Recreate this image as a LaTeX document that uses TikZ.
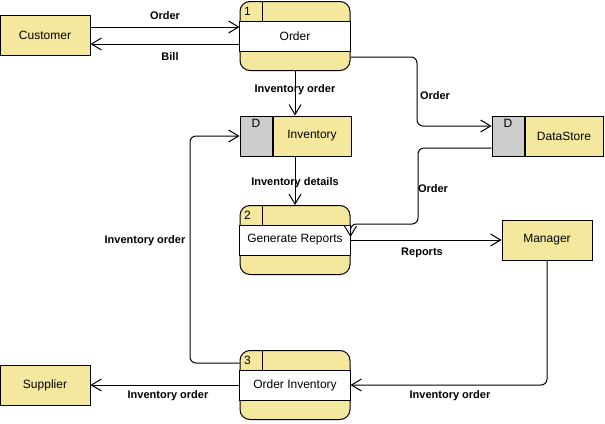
\documentclass[tikz,border=0pt]{standalone}
\usepackage{fontspec}
\setmainfont{Liberation Sans}
\usetikzlibrary{arrows.meta}

\definecolor{dfdyellow}{RGB}{243,232,157}
\definecolor{dfdgray}{RGB}{204,204,204}
\newcommand\dfdfont{\fontsize{12pt}{14pt}\selectfont}
\newcommand\dfdlblfont{\fontsize{11pt}{13pt}\selectfont\bfseries}

\tikzset{
  entity/.style={draw, fill=dfdyellow, minimum width=90pt, minimum height=40pt, inner sep=0pt},
  proc/.style={draw, fill=dfdyellow, rounded corners=10pt, minimum width=110pt, minimum height=69pt, inner sep=0pt},
  dcell/.style={draw, fill=dfdgray, minimum width=32pt, minimum height=40pt, inner sep=0pt},
  dbody/.style={draw, fill=dfdyellow, minimum width=78pt, minimum height=40pt, inner sep=0pt, anchor=west},
  flow/.style={-{Straight Barb[length=10pt,width=12pt]}, rounded corners=6pt},
  lbl/.style={font=\dfdlblfont},
}

\begin{document}
\begin{tikzpicture}[x=1pt, y=-1pt, line width=1pt, font=\dfdfont]
    \useasboundingbox (0,0) rectangle (605,423);

    % Nodes
    \node[entity] (CU) at (45,35) {Customer};
    \node[entity] (MG) at (547,240) {Manager};
    \node[entity] (SU) at (45,385) {Supplier};

    \node[proc] (P1) at (295,36) {};
    \node[proc] (P2) at (295,240) {};
    \node[proc] (P3) at (295,385) {};
    \foreach \p/\n/\t in {P1/1/Order, P2/2/Generate Reports, P3/3/Order Inventory} {
        \draw[fill=white] ([yshift=15pt]\p.west) rectangle ([yshift=-15pt]\p.east);
        \draw ([xshift=23pt]\p.north west) -- ([xshift=23pt, yshift=15pt]\p.west);
        \node (\p n) at ([xshift=8pt, yshift=-10pt]\p.north west) {\n};
        \node (\p t) at (\p.center) {\t};
    }

    \node[dcell] (INVd) at (256,136) {};
    \node[dbody] (INV) at (INVd.east) {Inventory};
    \node (INVl) at ([yshift=-8pt]INVd.north) {D};
    \node[dcell] (DSd) at (508,136) {};
    \node[dbody] (DS) at (DSd.east) {DataStore};
    \node (DSl) at ([yshift=-8pt]DSd.north) {D};

    % Lines
    \draw[flow] ([yshift=8pt]CU.east) -- ([yshift=9pt]P1.west);
    \draw[flow] ([yshift=-8pt]P1.west) -- ([yshift=-9pt]CU.east);
    \draw[flow] (P1.south) -- (P1.south |- INV.north);
    \draw[flow] ([yshift=-21pt]P1.east) -| (417,126) -- ([yshift=10pt]DSd.west);
    \draw[flow] (P1.south |- INV.south) -- (P2.north);
    \draw[flow] ([yshift=-12pt]DSd.west) -| (418,224) -| ([yshift=3pt]P2.east);
    \draw[flow] (P2.east) -- (MG.west);
    \draw[flow] (MG.south) |- (P3.east);
    \draw[flow] (P3.west) -- (SU.east);
    \draw[flow] ([yshift=22pt]P3.west) -| (190,136) -- (INVd.west);

    % Labels
    \node[lbl] (lOrderA) at (165,16) {Order};
    \node[lbl] (lBill) at (170,57) {Bill};
    \node[lbl] (lInvOrderA) at (295,90) {Inventory order};
    \node[lbl] (lOrderB) at (435,96) {Order};
    \node[lbl] (lInvDetails) at (295,183) {Inventory details};
    \node[lbl] (lOrderC) at (433,189) {Order};
    \node[lbl] (lReports) at (422,253) {Reports};
    \node[lbl] (lInvOrderB) at (145,241) {Inventory order};
    \node[lbl] (lInvOrderC) at (168,396) {Inventory order};
    \node[lbl] (lInvOrderD) at (450,396) {Inventory order};

\end{tikzpicture}
\end{document}
